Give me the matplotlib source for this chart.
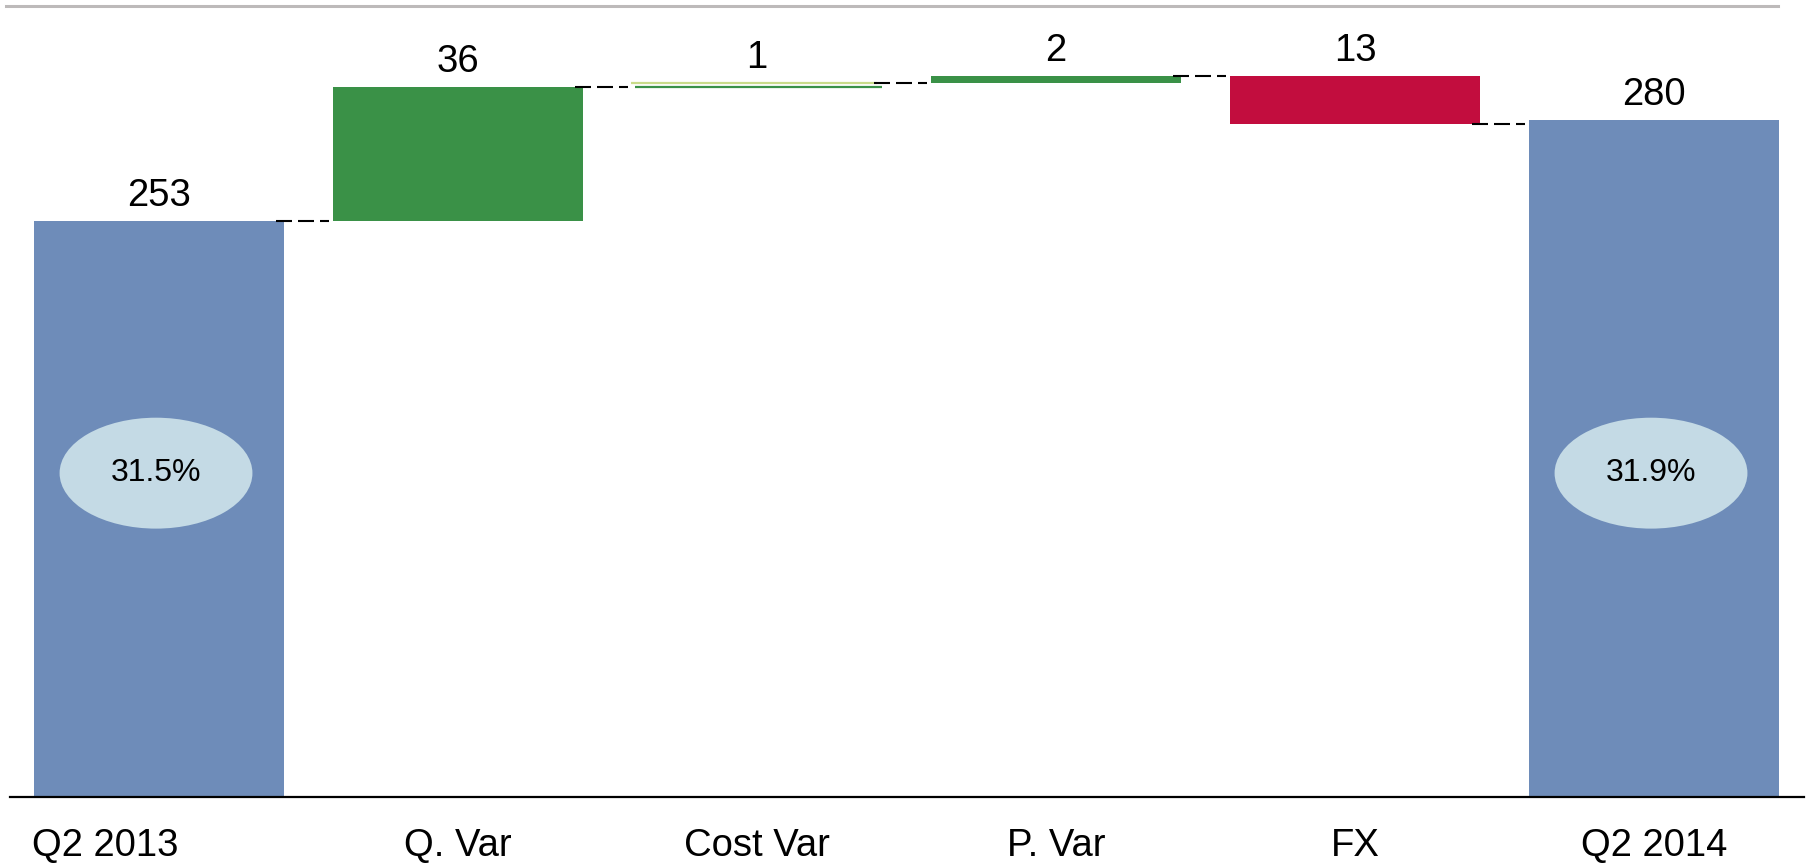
import matplotlib
matplotlib.use("Agg")
import matplotlib.pyplot as plt
from matplotlib.patches import Ellipse
from matplotlib.lines import Line2D
from matplotlib.transforms import ScaledTranslation
import numpy as np

plt.rcParams['font.family'] = ['Liberation Sans', 'DejaVu Sans']

# waterfall data
categories = ["Q2 2013", "Q. Var", "Cost Var", "P. Var", "FX", "Q2 2014"]
start_value = 253
end_value = 280
deltas = [36, 1, 2, -13]
margins = ["31.5%", "31.9%"]

blue = "#6e8cb9"
green = "#3a9147"
red = "#c20d3e"
light_green = "#c9dc8a"
oval = "#c4dae5"

W, H = 1810, 863
fig = plt.figure(figsize=(W / 100, H / 100), dpi=100)
ax = fig.add_axes([9.5 / W, 66 / H, 1794 / W, 791 / H])

bar_w = 0.835
x = np.arange(len(categories))

# running totals between the steps
levels = [start_value]
for d in deltas:
    levels.append(levels[-1] + d)

# totals
ax.bar(x[0], start_value, width=bar_w, color=blue, bottom=0)
ax.bar(x[-1], end_value, width=bar_w, color=blue, bottom=0)

# step bars
for i, d in enumerate(deltas, start=1):
    lo = min(levels[i - 1], levels[i])
    col = green if d > 0 else red
    if abs(d) <= 1:
        # too thin to fill: draw the edges of the step only
        ax.hlines(lo, x[i] - bar_w / 2 + 0.01, x[i] + bar_w / 2, color=col, lw=1.6)
        ax.hlines(lo + abs(d), x[i] - bar_w / 2 - 0.005, x[i] + bar_w / 2 - 0.015,
                  color=light_green, lw=1.6)
    else:
        ax.bar(x[i], abs(d), width=bar_w, bottom=lo, color=col)

# dashed connectors
lw = 1.5
for i, lev in enumerate(levels):
    ax.plot([x[i] + bar_w / 2 - 0.025, x[i + 1] - bar_w / 2 - 0.015], [lev, lev],
            color="black", lw=lw, linestyle=(0, (16 * 0.72 / lw, 6 * 0.72 / lw)),
            solid_capstyle="butt", dash_capstyle="butt")

# value labels
tops = [start_value] + [max(levels[i], levels[i + 1]) for i in range(len(deltas))] + [end_value]
values = [start_value] + [abs(d) for d in deltas] + [end_value]
for xi, top, v in zip(x, tops, values):
    ax.annotate(f"{v}", (xi, top), xytext=(0, 5), textcoords="offset points",
                ha="center", va="bottom", fontsize=27.5)

# margin ovals on the totals
for xi, txt in zip([x[0], x[-1]], margins):
    ax.add_patch(Ellipse((xi - 0.01, 185.2), 0.645, 29.8, facecolor=oval, edgecolor="none"))
    ax.text(xi - 0.01, 185.2, txt, ha="center", va="center", fontsize=23)

ax.set_xlim(-0.5, 5.5)
ax.set_ylim(98.2, 310.7)
ax.set_xticks(x, categories, fontsize=27.5)
ax.tick_params(axis="x", length=0, pad=22)
# first label starts at the left edge of its bar
first = ax.get_xticklabels()[0]
first.set_horizontalalignment("left")
first.set_transform(first.get_transform() + ScaledTranslation(-1.27, 0, fig.dpi_scale_trans))

ax.set_yticks([])
for s in ["top", "left", "right"]:
    ax.spines[s].set_visible(False)
ax.spines["bottom"].set_linewidth(1.6)
ax.spines["bottom"].set_color("black")

# thin grey rule along the top
fig.add_artist(Line2D([6 / W, 1778 / W], [1 - 6 / H, 1 - 6 / H], color="#bdbaba", lw=2.2,
                      transform=fig.transFigure))

fig.savefig("out.png", dpi=100)
